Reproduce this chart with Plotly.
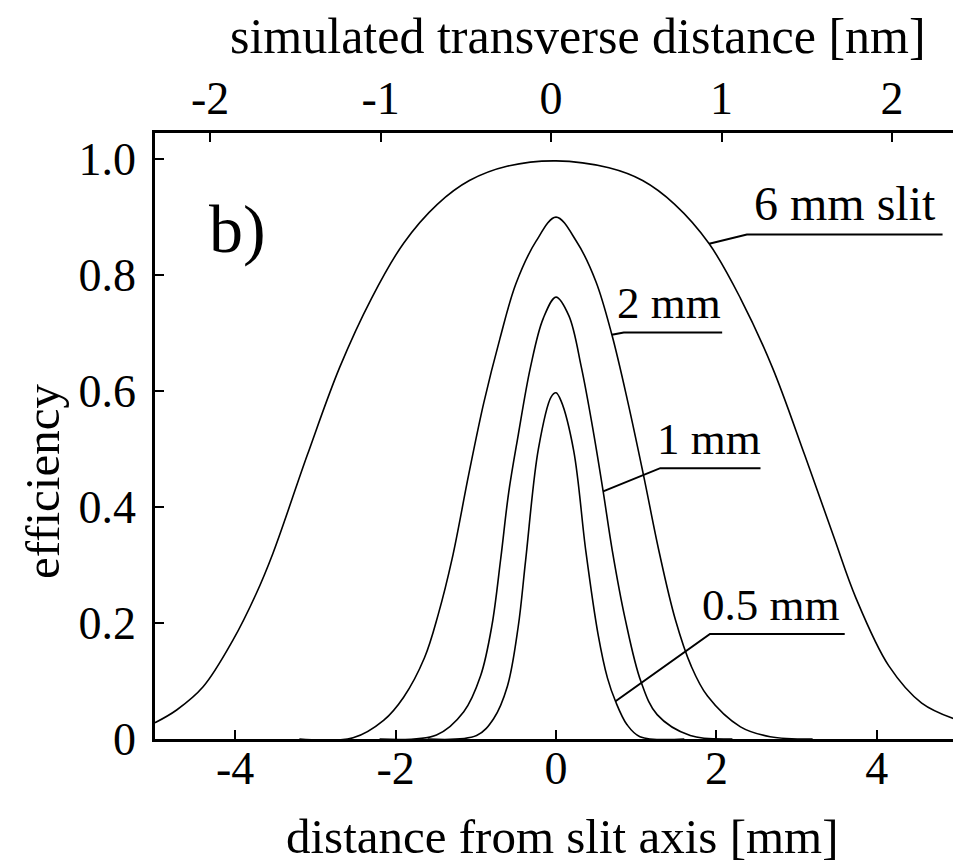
import plotly.graph_objects as go

# ---------------- data ----------------
x_6mm = [-5.0, -4.73, -4.40, -4.03, -3.74, -3.53, -3.10, -2.70, -2.30, -1.90, -1.48, -1.08, -0.60,
         0.0, 0.66, 1.08, 1.48, 1.91, 2.30, 2.70, 3.10, 3.46, 3.74, 4.15, 4.56, 5.0]
y_6mm = [0.028, 0.05, 0.09, 0.17, 0.25, 0.32, 0.49, 0.64, 0.76, 0.855, 0.922, 0.963, 0.988,
         0.997, 0.985, 0.963, 0.922, 0.854, 0.76, 0.64, 0.49, 0.35, 0.243, 0.126, 0.062, 0.033]

x_2mm = [-3.2, -2.53, -2.15, -1.90, -1.64, -1.47, -1.295, -1.09, -0.90, -0.70, -0.50, -0.25, 0.0,
         0.256, 0.497, 0.697, 0.896, 1.091, 1.287, 1.486, 1.685, 1.889, 2.30, 2.67, 3.2]
y_2mm = [0.0, 0.002, 0.032, 0.072, 0.14, 0.214, 0.311, 0.455, 0.58, 0.69, 0.785, 0.858, 0.90,
         0.858, 0.789, 0.697, 0.581, 0.455, 0.322, 0.207, 0.126, 0.074, 0.021, 0.004, 0.0]

x_1mm = [-2.2, -1.49, -1.15, -0.94, -0.80, -0.69, -0.59, -0.47, -0.32, -0.16, 0.0,
         0.16, 0.318, 0.472, 0.588, 0.703, 0.861, 1.059, 1.261, 1.674, 2.2]
y_1mm = [0.0, 0.007, 0.047, 0.109, 0.195, 0.31, 0.425, 0.525, 0.64, 0.725, 0.762,
         0.73, 0.64, 0.525, 0.427, 0.324, 0.208, 0.099, 0.042, 0.006, 0.0]

x_05mm = [-1.6, -0.99, -0.778, -0.606, -0.471, -0.378, -0.22, -0.06, 0.0,
          0.063, 0.221, 0.372, 0.524, 0.642, 0.742, 0.884, 1.047, 1.6]
y_05mm = [0.0, 0.006, 0.035, 0.091, 0.194, 0.309, 0.50, 0.59, 0.597,
          0.583, 0.497, 0.324, 0.181, 0.105, 0.065, 0.025, 0.004, 0.0]

mm_ticks = [-4, -2, 0, 2, 4]
mm_ticktext = ["-4", "-2", "0", "2", "4"]
nm_ticks = [-2, -1, 0, 1, 2]
nm_ticktext = ["-2", "-1", "0", "1", "2"]
eff_ticks = [0, 0.2, 0.4, 0.6, 0.8, 1.0]
eff_ticktext = ["0", "0.2", "0.4", "0.6", "0.8", "1.0"]

curve_labels = ["6 mm slit", "2 mm", "1 mm", "0.5 mm"]

# ---------------- figure ----------------
FONT = "Liberation Serif, Times New Roman, serif"
BLACK = "#000000"

fig = go.Figure()
for xs, ys in [(x_6mm, y_6mm), (x_2mm, y_2mm), (x_1mm, y_1mm), (x_05mm, y_05mm)]:
    fig.add_trace(go.Scatter(x=xs, y=ys, mode="lines",
                             line=dict(color=BLACK, width=1.6, shape="spline", smoothing=1.0),
                             showlegend=False, hoverinfo="skip"))
# invisible trace to hold the top axis
fig.add_trace(go.Scatter(x=nm_ticks, y=[None] * len(nm_ticks), xaxis="x2", mode="lines",
                         showlegend=False, hoverinfo="skip"))

axis_common = dict(showline=True, linecolor=BLACK, linewidth=2.5, ticks="inside",
                   ticklen=9, tickwidth=2, tickcolor=BLACK, showgrid=False, zeroline=False,
                   automargin=False,
                   tickfont=dict(family=FONT, size=46, color=BLACK))

# the page body adds an 8 px offset, so margins are shifted by 8 px
fig.update_layout(
    width=961, height=868,
    margin=dict(l=147, r=12, t=125, b=137, autoexpand=False),
    paper_bgcolor="white", plot_bgcolor="white",
    font=dict(family=FONT, color=BLACK),
    xaxis=dict(range=[-5, 5], tickvals=mm_ticks, ticktext=mm_ticktext,
               ticklabelstandoff=-13, **axis_common),
    xaxis2=dict(range=[-2.323, 2.381], tickvals=nm_ticks, ticktext=nm_ticktext,
                overlaying="x", side="top", anchor="y", ticklabelstandoff=-2, **axis_common),
    yaxis=dict(range=[0, 1.045], tickvals=eff_ticks, ticktext=eff_ticktext, mirror=True,
               ticklabelstandoff=7, **axis_common),
)

def paper_y(py):
    return (739 - py) / 606

def paper_x(px):
    return (px - 155) / 802

# axis titles
fig.add_annotation(text="simulated transverse distance [nm]", xref="paper", yref="paper",
                   x=paper_x(578), y=paper_y(36), xanchor="center", yanchor="middle",
                   showarrow=False, font=dict(family=FONT, size=50, color=BLACK))
fig.add_annotation(text="distance from slit axis [mm]", xref="paper", yref="paper",
                   x=paper_x(562), y=paper_y(836), xanchor="center", yanchor="middle",
                   showarrow=False, font=dict(family=FONT, size=49, color=BLACK))
fig.add_annotation(text="efficiency", xref="paper", yref="paper", textangle=-90,
                   x=paper_x(43), y=paper_y(482), xanchor="center", yanchor="middle",
                   showarrow=False, font=dict(family=FONT, size=49, color=BLACK))
fig.add_annotation(text="b)", x=-3.97, y=0.879, xanchor="center", yanchor="middle",
                   showarrow=False, font=dict(family=FONT, size=68, color=BLACK))

# curve labels with leader lines
label_specs = [
    # (text, font size, x_center, underline_y, leader start (curve, index), elbow x, end x)
    (curve_labels[0], 48, 3.60, 0.870, (x_6mm, y_6mm, 17), 2.38, 4.82),
    (curve_labels[1], 45, 1.41, 0.701, (x_2mm, y_2mm, 15), 0.845, 2.072),
    (curve_labels[2], 45, 1.91, 0.467, (x_1mm, y_1mm, 14), 1.30, 2.55),
    (curve_labels[3], 45, 2.68, 0.181, (x_05mm, y_05mm, 14), 1.92, 3.60),
]
for text, fs, xc, uy, (cx, cy, idx), xe, xend in label_specs:
    fig.add_shape(type="path",
                  path=f"M {cx[idx]} {cy[idx]} L {xe} {uy} L {xend} {uy}",
                  xref="x", yref="y", line=dict(color=BLACK, width=2))
    fig.add_annotation(text=text, x=xc, y=uy + 0.004, xanchor="center", yanchor="bottom",
                       showarrow=False, font=dict(family=FONT, size=fs, color=BLACK))

fig.write_html("out.html")
